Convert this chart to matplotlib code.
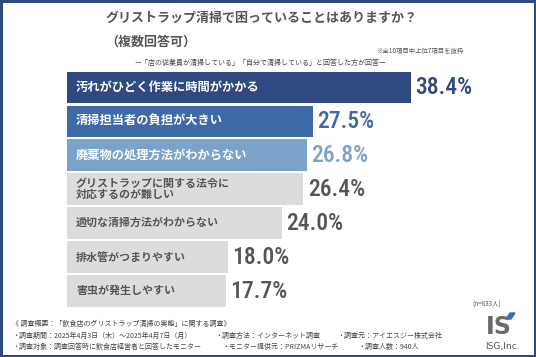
import matplotlib
matplotlib.use("Agg")
import matplotlib.pyplot as plt
from matplotlib.patches import Rectangle, Polygon
from matplotlib import font_manager

categories = [
    "汚れがひどく作業に時間がかかる",
    "清掃担当者の負担が大きい",
    "廃棄物の処理方法がわからない",
    "グリストラップに関する法令に\n対応するのが難しい",
    "適切な清掃方法がわからない",
    "排水管がつまりやすい",
    "害虫が発生しやすい",
]
values = [38.4, 27.5, 26.8, 26.4, 24.0, 18.0, 17.7]
value_labels = ["38.4%", "27.5%", "26.8%", "26.4%", "24.0%", "18.0%", "17.7%"]

bar_colors = ["#2e4a80", "#3f6aa8", "#7ba2c9", "#dcdcdc", "#dcdcdc", "#dcdcdc", "#dcdcdc"]
label_colors = ["white", "white", "white", "#555555", "#555555", "#555555", "#555555"]
value_colors = ["#2e4a80", "#3f6aa8", "#7ba2c9", "#555555", "#555555", "#555555", "#555555"]

JP = ["Noto Sans CJK JP", "DejaVu Sans"]
names = {f.name for f in font_manager.fontManager.ttflist}
narrow = [nm for nm in ["Liberation Sans Narrow", "Roboto Condensed", "Open Sans Condensed",
                        "DejaVu Sans Condensed", "Roboto"] if nm in names]
NUM = narrow[0] if narrow else "DejaVu Sans"
NUM_SIZE = 17.0 if NUM in ("Liberation Sans Narrow", "Roboto Condensed") else 14.5

W, H = 536, 357
fig = plt.figure(figsize=(W / 100, H / 100), dpi=100)
fig.patch.set_facecolor("white")

left_px = 67.3
px_per_unit = 8.94
top_px, bot_px = 70.5, 308.0
ax = fig.add_axes([left_px / W, (H - bot_px) / H, 1 - left_px / W, (bot_px - top_px) / H])
ax.set_xlim(0, (W - left_px) / px_per_unit)
n = len(values)
ax.set_ylim(n - 0.5, -0.5)
ax.axis("off")

ypos = list(range(n))
ax.barh(ypos, values, height=0.935, color=bar_colors, left=0)
for i, (c, v, lab) in enumerate(zip(categories, values, value_labels)):
    big = i < 3
    ax.text(0.97, i, c, ha="left", va="center", family=JP, weight="bold",
            fontsize=8.8 if big else 7.9, color=label_colors[i], linespacing=1.15)
    ax.annotate(lab, xy=(v, i), xytext=(3.2, 0), textcoords="offset points",
                ha="left", va="center", family=[NUM, "DejaVu Sans"], weight="medium",
                fontsize=NUM_SIZE, color=value_colors[i])

# Titles
fig.text(105 / W, 1 - 18 / H, "グリストラップ清掃で困っていることはありますか？",
         family=JP, weight="bold", fontsize=9.4, color="#555555", ha="left", va="center")
fig.text(105 / W, 1 - 42 / H, "（複数回答可）",
         family=JP, weight="bold", fontsize=9.4, color="#555555", ha="left", va="center")
fig.text(463 / W, 1 - 51 / H, "※全10項目中上位7項目を抜粋",
         family=JP, fontsize=4.6, color="#555555", ha="right", va="center")
fig.text(260 / W, 1 - 63 / H,
         "ー「店の従業員が清掃している」「自分で清掃している」と回答した方が回答ー",
         family=JP, fontsize=5.0, color="#444444", ha="center", va="center")

fig.text(487 / W, 1 - 305 / H, "(n=833人)", family=JP, fontsize=4.6,
         color="#555555", ha="center", va="center")

# Footer
fs = 5.0
fc = "#444444"
fig.text(12 / W, 1 - 324 / H, "《 調査概要：「飲食店のグリストラップ清掃の実態」に関する調査》",
         family=JP, fontsize=fs, color=fc, ha="left", va="center")
fig.text(12 / W, 1 - 336 / H, "・調査期間：2025年4月3日（木）～2025年4月7日（月）",
         family=JP, fontsize=fs, color=fc, ha="left", va="center")
fig.text(215 / W, 1 - 336 / H, "・調査方法：インターネット調査",
         family=JP, fontsize=fs, color=fc, ha="left", va="center")
fig.text(337 / W, 1 - 336 / H, "・調査元：アイエスジー株式会社",
         family=JP, fontsize=fs, color=fc, ha="left", va="center")
fig.text(12 / W, 1 - 347 / H, "・調査対象：調査回答時に飲食店経営者と回答したモニター",
         family=JP, fontsize=fs, color=fc, ha="left", va="center")
fig.text(222 / W, 1 - 347 / H, "・モニター提供元：PRIZMAリサーチ",
         family=JP, fontsize=fs, color=fc, ha="left", va="center")
fig.text(358 / W, 1 - 347 / H, "・調査人数：940人",
         family=JP, fontsize=fs, color=fc, ha="left", va="center")

# Logo
fig.text(499 / W, 1 - 327 / H, "IS", family=["DejaVu Sans"], weight="bold",
         fontsize=17, color="#6b6b6b", ha="center", va="center")
fig.patches.append(Polygon([(506 / W, 1 - 319 / H), (511 / W, 1 - 319 / H),
                            (515 / W, 1 - 313 / H), (510 / W, 1 - 313 / H)],
                           closed=True, transform=fig.transFigure, color="#2f6fc0"))
fig.text(502 / W, 1 - 347 / H, "ISG,Inc.", family=["DejaVu Sans"],
         fontsize=6.6, color="#555555", ha="center", va="center")

# Border
fig.patches.append(Rectangle((0, 0), 1, 1, transform=fig.transFigure, fill=False,
                             edgecolor="#2c4a7e", linewidth=3.6))

fig.savefig("out.png", dpi=100)
